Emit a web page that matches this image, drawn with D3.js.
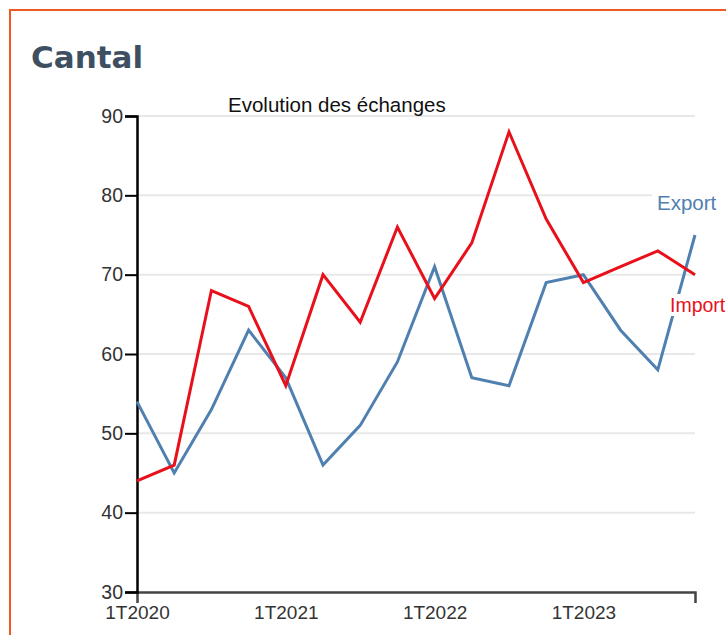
<!DOCTYPE html>
<html>
<head>
<meta charset="utf-8">
<script src="https://cdn.jsdelivr.net/npm/d3@7"></script>
<style>
  html, body { margin: 0; padding: 0; background: #fff; overflow: hidden; }
  svg { display: block; }
</style>
</head>
<body>
<svg id="chart" width="726" height="635"></svg>
<script>
const title = "Cantal";
const subtitle = "Evolution des échanges";
const periods = ["1T2020","2T2020","3T2020","4T2020","1T2021","2T2021","3T2021","4T2021",
                 "1T2022","2T2022","3T2022","4T2022","1T2023","2T2023","3T2023","4T2023"];
const exportValues = [54, 45, 53, 63, 57, 46, 51, 59, 71, 57, 56, 69, 70, 63, 58, 75];
const importValues = [44, 46, 68, 66, 56, 70, 64, 76, 67, 74, 88, 77, 69, 71, 73, 70];
const yTicks = [30, 40, 50, 60, 70, 80, 90];
const xTickLabels = ["1T2020", "1T2021", "1T2022", "1T2023"];

const FONT = "'Liberation Sans', Arial, sans-serif";
const svg = d3.select("#chart");

// frame
svg.append("rect").attr("x", 10).attr("y", 10).attr("width", 740).attr("height", 660)
  .attr("fill", "none").attr("stroke", "#ef5a24").attr("stroke-width", 2);

svg.append("text").attr("x", 31).attr("y", 68).text(title)
  .attr("font-family", "'DejaVu Sans', sans-serif").attr("font-weight", "bold")
  .attr("font-size", 31).attr("fill", "#3e4f62");

const x = d3.scalePoint().domain(periods).range([137, 695]);
const y = d3.scaleLinear().domain([30, 90]).range([592, 116]);

// grid
svg.append("g").selectAll("line").data(yTicks.filter(d => d > 30)).join("line")
  .attr("x1", 137).attr("x2", 695)
  .attr("y1", d => y(d)).attr("y2", d => y(d))
  .attr("stroke", "#e8e8e8").attr("stroke-width", 2);

// subtitle
svg.append("text").attr("x", 228).attr("y", 112).text(subtitle)
  .attr("font-family", FONT).attr("font-size", 20.5).attr("fill", "#111");

// x axis
const xAxis = d3.axisBottom(x).tickValues(xTickLabels).tickSizeInner(0).tickSizeOuter(11).tickPadding(14);
const gx = svg.append("g").attr("transform", `translate(0,${y(30)})`).call(xAxis);
gx.select(".domain").attr("stroke", "#444").attr("stroke-width", 2.5);
gx.selectAll("text").attr("font-family", FONT).attr("font-size", 19).attr("fill", "#333");

// y axis
const yAxis = d3.axisLeft(y).tickValues(yTicks).tickSizeInner(12).tickSizeOuter(12).tickPadding(2);
const gy = svg.append("g").attr("transform", `translate(137,0)`).call(yAxis);
gy.select(".domain").attr("stroke", "#000").attr("stroke-width", 2.5);
gy.selectAll(".tick line").attr("stroke", "#000").attr("stroke-width", 2);
gy.selectAll("text").attr("font-family", FONT).attr("font-size", 19.5).attr("fill", "#333");

// lines
const line = d3.line().x((d, i) => x(periods[i])).y(d => y(d));
svg.append("path").datum(exportValues).attr("d", line)
  .attr("fill", "none").attr("stroke", "#4f80b0").attr("stroke-width", 3);
svg.append("path").datum(importValues).attr("d", line)
  .attr("fill", "none").attr("stroke", "#e8111b").attr("stroke-width", 3);

// labels
function label(txt, xx, yy, col, fs) {
  const t = svg.append("text").attr("x", xx).attr("y", yy).text(txt)
    .attr("font-family", FONT).attr("font-size", fs).attr("fill", col);
  const bb = t.node().getBBox();
  svg.insert("rect", function() { return t.node(); })
    .attr("x", bb.x - 5).attr("y", bb.y).attr("width", bb.width + 8).attr("height", bb.height).attr("fill", "#fff");
}
label("Export", 657, 210, "#4f80b0", 20.5);
label("Import", 670, 312, "#e8111b", 19.5);
</script>
</body>
</html>
